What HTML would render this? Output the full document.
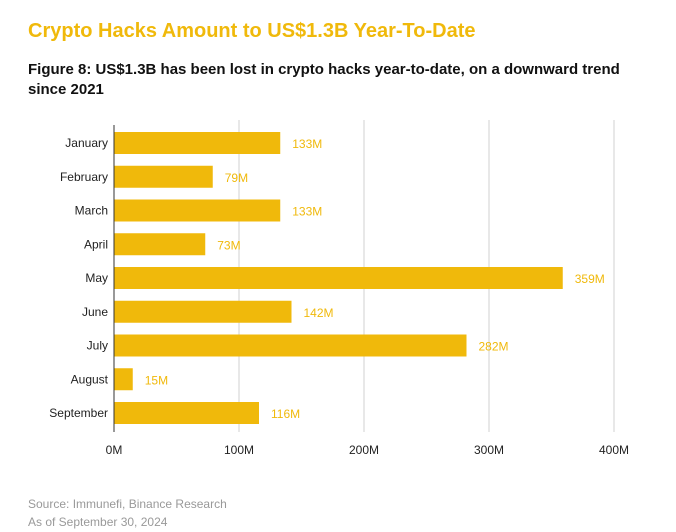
<!DOCTYPE html>
<html><head><meta charset="utf-8"><style>
body{margin:0;background:#fff;font-family:"Liberation Sans",sans-serif;}
#wrap{position:relative;width:676px;height:532px;overflow:hidden;}
.t{position:absolute;white-space:nowrap;}
</style></head><body>
<div id="wrap">
<div class="t" style="left:28px;top:20px;font-size:20px;font-weight:bold;color:#F0B90B;">Crypto Hacks Amount to US$1.3B Year-To-Date</div>
<div class="t" style="left:28px;top:60px;font-size:15px;font-weight:bold;color:#111;line-height:20px;">Figure 8: US$1.3B has been lost in crypto hacks year-to-date, on a downward trend<br>since 2021</div>
<svg id="chart" width="676" height="532" style="position:absolute;left:0;top:0;"></svg>
<div class="t" style="left:28px;top:495px;font-size:12px;color:#999;line-height:18px;">Source: Immunefi, Binance Research<br>As of September 30, 2024</div>
</div>
<script>
const categories=["January","February","March","April","May","June","July","August","September"];
const values=[133,79,133,73,359,142,282,15,116];
const tickValues=[0,100,200,300,400];
const tickLabels=["0M","100M","200M","300M","400M"];
const svg=document.getElementById('chart');
const NS='http://www.w3.org/2000/svg';
const x0=114,pxPer=1.25,y0=143,step=33.75,bh=22;
const xs=v=>x0+v*pxPer;
const ys=i=>y0+i*step;
function mk(tag,attrs,text){const e=document.createElementNS(NS,tag);for(const k in attrs)e.setAttribute(k,attrs[k]);if(text!==undefined)e.textContent=text;svg.appendChild(e);return e;}
tickValues.forEach((v,i)=>{
  if(v>0){const g=mk('line',{x1:xs(v),x2:xs(v),y1:120,y2:432,stroke:'#d0d0d0','stroke-width':1});
  
  }
  const t=mk('text',{x:xs(v),y:454,'text-anchor':'middle','font-size':12,fill:'#222','font-family':'Liberation Sans'},tickLabels[i]);
  
  
});
categories.forEach((c,i)=>{
  const r=mk('rect',{x:x0,y:ys(i)-bh/2,width:values[i]*pxPer,height:bh,fill:'#F0B90B'});
  
  
  const l=mk('text',{x:108,y:ys(i)+4,'text-anchor':'end','font-size':12,fill:'#222','font-family':'Liberation Sans'},c);
  
  
  const v=mk('text',{x:xs(values[i])+12,y:ys(i)+5,'font-size':12,fill:'#F0B90B','font-family':'Liberation Sans'},values[i]+'M');
  
  
});
const ax=mk('line',{x1:x0,x2:x0,y1:125,y2:432,stroke:'#333','stroke-width':1});


</script>
</body></html>
